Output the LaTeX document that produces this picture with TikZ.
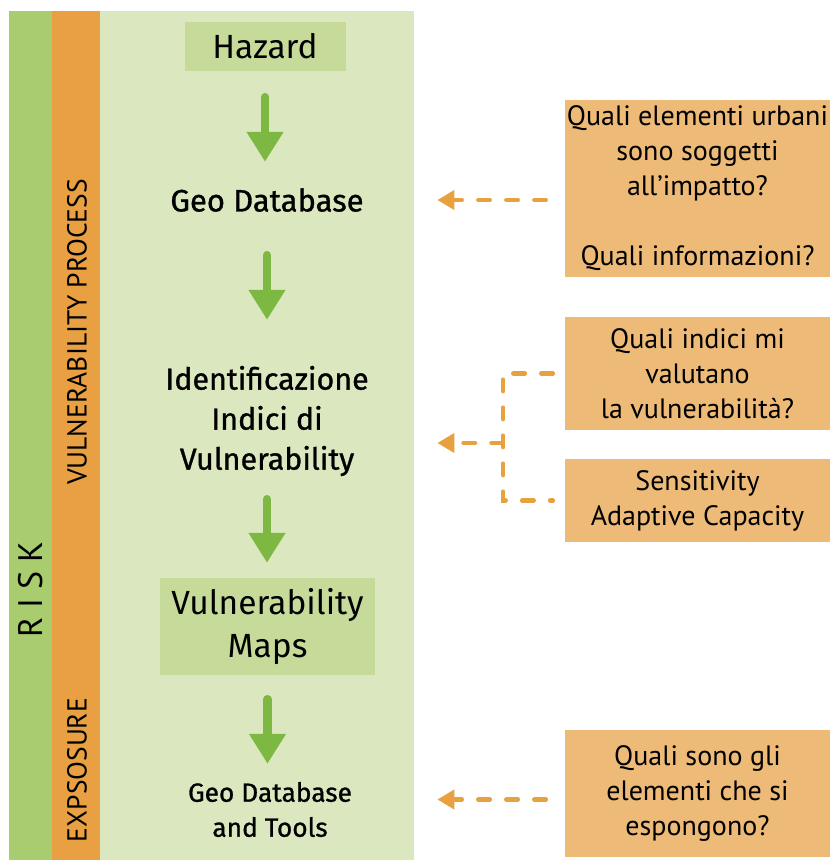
\documentclass[tikz,border=0pt]{standalone}
\usepackage{fontspec}
\setmainfont{Fira Sans}
\newfontfamily\medfont{Fira Sans}[FakeBold=1]
\newfontfamily\qfont{PT Sans}
\usetikzlibrary{arrows.meta}
\definecolor{riskgreen}{RGB}{168,204,110}
\definecolor{procorange}{RGB}{233,160,66}
\definecolor{panelgreen}{RGB}{218,231,191}
\definecolor{boxgreen}{RGB}{198,219,154}
\definecolor{flowgreen}{RGB}{125,184,67}
\definecolor{qorange}{RGB}{237,187,119}
\definecolor{dashorange}{RGB}{231,161,62}

\begin{document}
\begin{tikzpicture}[x=1pt,y=-1pt,
    stepbox/.style={fill=boxgreen,inner sep=0pt,align=center,font=\fontsize{33.5}{43}\selectfont},
    steptext/.style={inner sep=0pt,align=center,font=\medfont\fontsize{31}{40}\selectfont},
    qbox/.style={fill=qorange,inner sep=0pt,minimum width=265pt,align=center,font=\qfont\fontsize{28}{35}\selectfont},
    barlabel/.style={rotate=90,inner sep=0pt,font=\qfont\fontsize{27.5}{28}\selectfont},
    flow/.style={draw=flowgreen,line width=8.5pt,line cap=round,-{Triangle[length=30pt,width=35pt]}},
    dashline/.style={draw=dashorange,line width=4.5pt,line cap=round,dash pattern=on 11.5pt off 16.5pt},
    dasharrow/.style={dashline,-{Triangle[length=17pt,width=19pt]}}]
    \useasboundingbox (0,0) rectangle (830,860);
    % bars on the left
    \fill[riskgreen] (9,11) rectangle (52,860);
    \fill[procorange] (52,11) rectangle (100,860);
    \node[fill=panelgreen,inner sep=0pt,minimum width=314pt,minimum height=849pt,anchor=north west] (panel) at (100,11) {};
    \node[barlabel,font=\qfont\fontsize{34}{34}\selectfont] (risk) at (31,590) {R\hspace{9pt}I\hspace{9pt}S\hspace{9pt}K};
    \node[barlabel] (proc) at (77,332) {VULNERABILITY PROCESS};
    \node[barlabel] (expo) at (77,770) {EXPSOSURE};

    % process steps
    \node[stepbox,minimum width=161pt,minimum height=49pt] (hazard) at (265,46.5) {Hazard};
    \node[steptext,minimum height=60pt] (geodb) at (267,200) {Geo Database};
    \node[steptext,minimum height=130pt,font=\medfont\fontsize{30.4}{40}\selectfont] (ident) at (267,421) {Identificazione\\Indici di\\Vulnerability};
    \node[stepbox,minimum width=215pt,minimum height=97pt] (maps) at (267.5,626.5) {Vulnerability\\Maps};
    \node[steptext,minimum height=80pt,font=\medfont\fontsize{26.3}{35}\selectfont] (tools) at (270,809.5) {Geo Database\\and Tools};
    \foreach \a/\b/\s/\e in {hazard/geodb/26/8, geodb/ident/25/36, ident/maps/13/15, maps/tools/24/5.5}
        \draw[flow,shorten <=\s pt,shorten >=\e pt] (\a.south) -- (\a.south |- \b.north);

    % questions
    \node[qbox,minimum height=177pt] (q1) at (697.5,188.5) {Quali elementi urbani\\sono soggetti\\all’impatto?\\[35pt]Quali informazioni?};
    \node[qbox,minimum height=113pt] (q2) at (697.5,373.5) {Quali indici mi\\valutano\\la vulnerabilità?};
    \node[qbox,minimum height=83pt] (q3) at (697.5,500.5) {Sensitivity\\Adaptive Capacity};
    \node[qbox,minimum height=127pt] (q4) at (697.5,793.5) {Quali sono gli\\elementi che si\\espongono?};
    \coordinate (brk) at (503,443);

    \draw[dasharrow,shorten <=19pt,shorten >=23pt] (q1.west |- geodb) -- (panel.east |- geodb);
    \draw[dashline] ([xshift=-12pt]q2.west) -| (brk) |- ([xshift=-12pt]q3.west);
    \draw[dasharrow,shorten >=23pt] (brk) -- (panel.east |- brk);
    \draw[dasharrow,shorten <=19pt,shorten >=23pt] ([yshift=-6pt]q4.west) -- ([yshift=-6pt]q4.west -| panel.east);
\end{tikzpicture}
\end{document}
